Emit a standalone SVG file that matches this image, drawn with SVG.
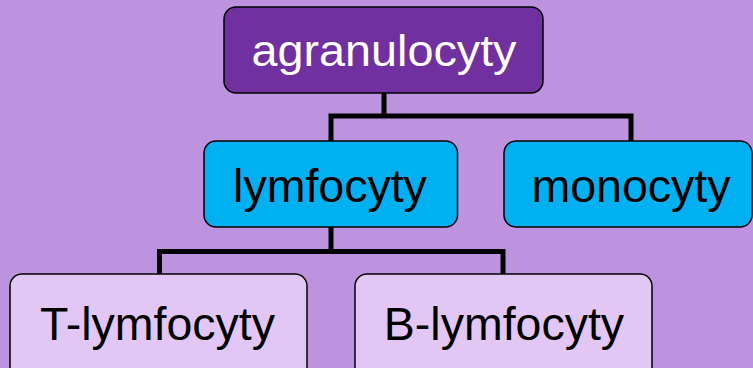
<svg xmlns="http://www.w3.org/2000/svg" width="753" height="368" viewBox="0 0 753 368">
  <style>
    .box { stroke: #000; stroke-width: 1.5; }
    .l1 { fill: #7030A0; }
    .l2 { fill: #00B0F0; }
    .l3 { fill: #E2C6F4; }
    .lbl { font-family: "Liberation Sans", Arial, sans-serif; font-size: 46.5px; text-anchor: middle; fill: #000; }
    .top { fill: #fff; font-size: 44px; }
    .conn { fill: none; stroke: #000; stroke-width: 5; stroke-linejoin: miter; stroke-linecap: butt; }
  </style>
  <rect x="0" y="0" width="753" height="368" fill="#BD92DF"/>
  <g id="connectors">
    <path class="conn" d="M384,93 V116 M331,141 V116 H631 V141"/>
    <path class="conn" d="M331,227 V251.5 M159.5,274 V251.5 H503 V274"/>
  </g>
  <g id="agranulocyty">
    <rect class="box l1" x="224" y="7" width="319" height="86" rx="12"/>
    <text class="lbl top" x="384" y="66" textLength="265" lengthAdjust="spacingAndGlyphs">agranulocyty</text>
  </g>
  <g id="lymfocyty">
    <rect class="box l2" x="204" y="141" width="253.5" height="86" rx="12"/>
    <text class="lbl" x="330" y="201.5">lymfocyty</text>
  </g>
  <g id="monocyty">
    <rect class="box l2" x="504" y="141" width="248" height="86" rx="12"/>
    <text class="lbl" x="631" y="201.5">monocyty</text>
  </g>
  <g id="t-lymfocyty">
    <rect class="box l3" x="10" y="274" width="297" height="110" rx="12"/>
    <text class="lbl" x="157.5" y="340">T-lymfocyty</text>
  </g>
  <g id="b-lymfocyty">
    <rect class="box l3" x="355" y="274" width="297" height="110" rx="12"/>
    <text class="lbl" x="504" y="340">B-lymfocyty</text>
  </g>
</svg>
